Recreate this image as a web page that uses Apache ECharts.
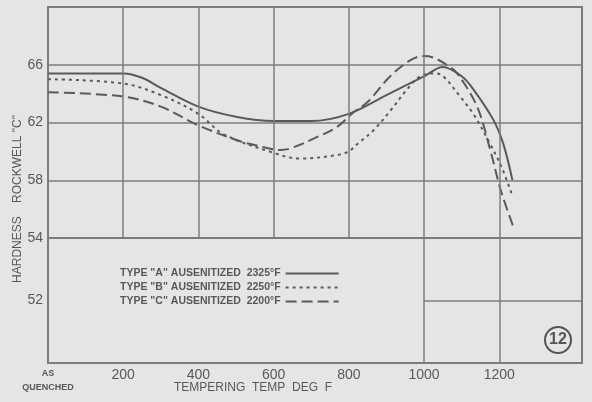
<!DOCTYPE html>
<html>
<head>
<meta charset="utf-8">
<script src="https://cdn.jsdelivr.net/npm/echarts@6/dist/echarts.min.js"></script>
<style>
html,body{margin:0;padding:0;background:#e5e5e3;}
#chart{width:592px;height:402px;}
</style>
</head>
<body>
<div id="chart"></div>
<script>
// Tempering temperature (deg F, 0 = "as quenched") and Rockwell C hardness
const typeATemp = [0, 200, 250, 300, 400, 500, 600, 700, 800, 900, 1000, 1050, 1100, 1131, 1184, 1211, 1235];
const typeAHard = [65.4, 65.4, 65.1, 64.4, 63.1, 62.4, 62.1, 62.1, 62.6, 63.9, 65.2, 65.85, 65.2, 64.3, 62.2, 60.5, 58.0];

const typeBTemp = [0, 200, 300, 400, 466, 600, 670, 770, 800, 822, 865, 910, 955, 990, 1030, 1051, 1096, 1131, 1176, 1208, 1235];
const typeBHard = [65.0, 64.7, 63.9, 62.6, 61.2, 59.9, 59.5, 59.75, 60.0, 60.5, 61.45, 62.8, 64.3, 65.2, 65.4, 65.2, 63.8, 62.6, 60.5, 58.8, 56.9];

const typeCTemp = [0, 200, 300, 400, 511, 556, 617, 644, 716, 769, 812, 849, 910, 963, 998, 1024, 1060, 1088, 1141, 1176, 1203, 1237];
const typeCHard = [64.1, 63.8, 63.1, 61.8, 60.7, 60.4, 60.1, 60.2, 61.0, 61.7, 62.7, 63.4, 65.2, 66.3, 66.6, 66.5, 66.0, 65.4, 63.1, 60.1, 57.4, 54.8];

const seriesNames = [
  'TYPE "A" AUSENITIZED  2325°F',
  'TYPE "B" AUSENITIZED  2250°F',
  'TYPE "C" AUSENITIZED  2200°F'
];

const xTickValues = [200, 400, 600, 800, 1000, 1200];
const xLowerPanelLines = [1000, 1200];
const yLowerPanelLine = 52;
const xMax = 1420;

const pair = (xs, ys) => xs.map((x, i) => [x, ys[i]]);

const gridColor = '#7c7c7c';
const inkColor = '#5a5a5a';
const textColor = '#585858';
const fam = '"Liberation Sans", Arial, sans-serif';

const chart = echarts.init(document.getElementById('chart'), null, {renderer: 'canvas'});

const option = {
  backgroundColor: '#e5e5e3',
  animation: false,
  textStyle: {fontFamily: fam},
  grid: [
    {left: 48, right: 10, top: 7, height: 231, show: true, borderColor: gridColor, borderWidth: 2, backgroundColor: 'transparent', outerBoundsMode: 'none', containLabel: false},
    {left: 48, right: 10, top: 238, height: 125, show: true, borderColor: gridColor, borderWidth: 2, backgroundColor: 'transparent', outerBoundsMode: 'none', containLabel: false}
  ],
  xAxis: [
    {gridIndex: 0, type: 'value', min: 0, max: xMax, axisLine: {show: false}, axisTick: {show: false},
     axisLabel: {show: false}, splitLine: {show: false}},
    {gridIndex: 1, type: 'value', min: 0, max: xMax, interval: 200,
     axisLine: {show: false}, axisTick: {show: false}, splitLine: {show: false},
     axisLabel: {
       margin: 4,
       formatter: function (v) {
         if (v === 0) return '{q|AS}\n{q|QUENCHED}';
         if (v > 1200) return '';
         return '{n|' + v + '}';
       },
       rich: {
         q: {fontSize: 9, fontWeight: 'bold', color: textColor, lineHeight: 14, fontFamily: fam},
         n: {fontSize: 14, color: textColor, lineHeight: 16, fontFamily: fam}
       }
     },
     name: 'TEMPERING  TEMP  DEG  F', nameLocation: 'middle', nameGap: 19, nameMoveOverlap: false,
     nameTextStyle: {fontSize: 12, color: textColor, padding: [0, 124, 0, 0], fontFamily: fam}
    }
  ],
  yAxis: [
    {gridIndex: 0, type: 'value', min: 54, max: 70, interval: 4,
     axisLine: {show: false}, axisTick: {show: false},
     splitLine: {show: true, lineStyle: {color: gridColor, width: 1.5}},
     axisLabel: {margin: 5, fontSize: 14, color: textColor, formatter: v => (v === 70 ? '' : String(v))}},
    {gridIndex: 1, type: 'value', min: 50, max: 54, interval: 2,
     axisLine: {show: false}, axisTick: {show: false}, splitLine: {show: false},
     axisLabel: {margin: 5, fontSize: 14, color: textColor, formatter: v => (v === 52 ? '52' : '')}}
  ],
  legend: {
    orient: 'vertical', left: 115, top: 263, align: 'right',
    itemWidth: 53, itemHeight: 8, itemGap: 3, selectedMode: false,
    itemStyle: {opacity: 0},
    data: seriesNames,
    textStyle: {fontSize: 10.5, fontWeight: 'bold', color: textColor, fontFamily: fam}
  },
  series: [
    {type: 'line', xAxisIndex: 0, yAxisIndex: 0, data: [], silent: true, z: 1,
     markLine: {symbol: ['none', 'none'], silent: true, label: {show: false},
       lineStyle: {color: gridColor, width: 1.5, type: 'solid'},
       data: xTickValues.map(v => ({xAxis: v}))}},
    {type: 'line', xAxisIndex: 1, yAxisIndex: 1, data: [], silent: true, z: 1,
     markLine: {symbol: ['none', 'none'], silent: true, label: {show: false},
       lineStyle: {color: gridColor, width: 1.5, type: 'solid'},
       data: xLowerPanelLines.map(v => ({xAxis: v})).concat([[{coord: [xLowerPanelLines[0], yLowerPanelLine]}, {coord: [xMax, yLowerPanelLine]}]])}},
    {name: seriesNames[0], type: 'line', xAxisIndex: 0, yAxisIndex: 0, smooth: 0.35, showSymbol: false, symbol: 'none',
     data: pair(typeATemp, typeAHard), color: inkColor, lineStyle: {color: inkColor, width: 2, type: 'solid'}, z: 3},
    {name: seriesNames[1], type: 'line', xAxisIndex: 0, yAxisIndex: 0, smooth: 0.35, showSymbol: false, symbol: 'none',
     data: pair(typeBTemp, typeBHard), color: inkColor, lineStyle: {color: inkColor, width: 2, type: [3, 4]}, z: 3},
    {name: seriesNames[2], type: 'line', xAxisIndex: 0, yAxisIndex: 0, smooth: 0.35, showSymbol: false, symbol: 'none',
     data: pair(typeCTemp, typeCHard), color: inkColor, lineStyle: {color: inkColor, width: 2, type: [11, 5]}, z: 3}
  ],
  graphic: [
    {type: 'text', x: 18, y: 199, rotation: Math.PI / 2,
     style: {text: 'HARDNESS    ROCKWELL "C"', fontSize: 12, fontFamily: fam, fill: textColor, align: 'center', verticalAlign: 'middle'}},
    {type: 'circle', shape: {cx: 558, cy: 340, r: 13}, style: {fill: 'none', stroke: '#555', lineWidth: 2}},
    {type: 'text', x: 558, y: 340,
     style: {text: '12', fontSize: 16, fontWeight: 'bold', fontFamily: '"Liberation Sans Narrow", ' + fam, fill: '#555', align: 'center', verticalAlign: 'middle'}}
  ]
};

chart.setOption(option);
</script>
</body>
</html>
